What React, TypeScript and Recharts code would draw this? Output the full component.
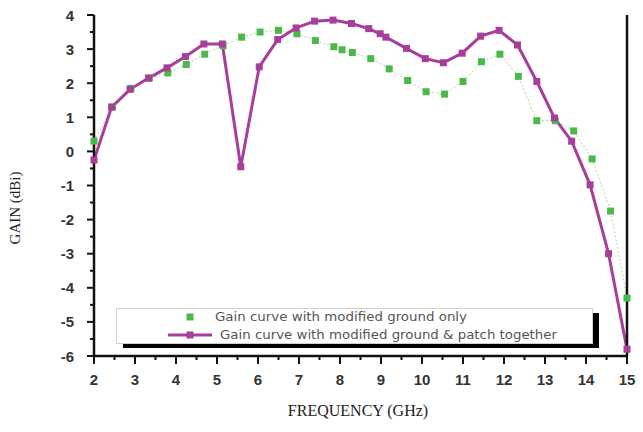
import { Label, Line, LineChart, XAxis, YAxis } from "recharts";

// gain curve, modified ground only (green)
const groundFreq = [
  2.0, 2.45, 2.9, 3.35, 3.8, 4.25, 4.7, 5.15, 5.6, 6.05, 6.5, 6.95, 7.4, 7.85, 8.05, 8.3,
  8.75, 9.2, 9.65, 10.1, 10.55, 11.0, 11.45, 11.9, 12.35, 12.8, 13.25, 13.7, 14.15, 14.6, 15.0
];
const groundGain = [
  0.3, 1.3, 1.85, 2.15, 2.3, 2.55, 2.85, 3.1, 3.35, 3.5, 3.55, 3.45, 3.25, 3.07, 2.98, 2.9,
  2.72, 2.42, 2.08, 1.75, 1.68, 2.05, 2.63, 2.85, 2.2, 0.9, 0.9, 0.6, -0.22, -1.75, -4.3
];

// gain curve, modified ground & patch together (magenta)
const patchFreq = [
  2.0, 2.43, 2.88, 3.33, 3.78, 4.23, 4.68, 5.13, 5.58, 6.03, 6.48, 6.93, 7.38, 7.83, 8.28,
  8.7, 8.98, 9.12, 9.62, 10.08, 10.52, 10.98, 11.43, 11.88, 12.33, 12.8, 13.23, 13.65, 14.1,
  14.55, 15.0
];
const patchGain = [
  -0.25, 1.3, 1.82, 2.15, 2.45, 2.78, 3.15, 3.15, -0.45, 2.48, 3.28, 3.62, 3.82, 3.85, 3.75,
  3.6, 3.45, 3.35, 3.02, 2.72, 2.6, 2.88, 3.38, 3.55, 3.12, 2.05, 0.98, 0.3, -0.98, -3.0, -5.8
];

const freqTicks = [
  2, 2.5, 3, 3.5, 4, 4.5, 5, 5.5, 6, 6.5, 7, 7.5, 8, 8.5, 9, 9.5, 10, 10.5, 11, 11.5, 12,
  12.5, 13, 13.5, 14, 14.5, 15
];
const gainTicks = [
  -6, -5.5, -5, -4.5, -4, -3.5, -3, -2.5, -2, -1.5, -1, -0.5, 0, 0.5, 1, 1.5, 2, 2.5, 3,
  3.5, 4
];

const groundData = groundFreq.map((f, i) => ({ f, gain: groundGain[i] }));
const patchData = patchFreq.map((f, i) => ({ f, gain: patchGain[i] }));

const GREEN = "#4cb84a";
const GREEN_LINE = "#a8d8a0";
const MAGENTA = "#a63e9a";
const AXIS = "#111";
const tickFont = { fontFamily: "Liberation Sans, Arial, sans-serif", fontSize: 15, fontWeight: 700, fill: "#333" };

const BottomTick = ({ x, y, payload }: any) => {
  const major = Number.isInteger(payload.value);
  return (
    <g>
      <line x1={x} x2={x} y1={y} y2={y + (major ? 8 : 4)} stroke={AXIS} strokeWidth={2} />
      {major && (
        <text x={x} y={y + 23} textAnchor="middle" dominantBaseline="central" {...tickFont}>
          {payload.value}
        </text>
      )}
    </g>
  );
};

const LeftTick = ({ x, y, payload }: any) => {
  const major = Number.isInteger(payload.value);
  return (
    <g>
      <line x1={x} x2={x - (major ? 7 : 4)} y1={y} y2={y} stroke={AXIS} strokeWidth={2} />
      {major && (
        <text x={x - 20} y={y} textAnchor="end" dominantBaseline="central" {...tickFont}>
          {payload.value}
        </text>
      )}
    </g>
  );
};

const TopTick = ({ x, y }: any) => (
  <line x1={x} x2={x} y1={y} y2={y + 3} stroke={AXIS} strokeWidth={2} />
);

const RightTick = ({ x, y }: any) => (
  <line x1={x} x2={x - 4} y1={y} y2={y} stroke={AXIS} strokeWidth={2} />
);

const SquareDot = (color: string) => (props: any) => {
  const { cx, cy, index } = props;
  return <rect key={index} x={cx - 3.5} y={cy - 3.5} width={7} height={7} fill={color} />;
};

const LegendBox = () => (
  <svg width={490} height={42} style={{ position: "absolute", left: 116, top: 308 }}>
    <rect x={7} y={5} width={476} height={35} fill="#000" />
    <rect x={0.5} y={0.5} width={476} height={35} fill="#fff" stroke="#d0d0d0" />
    <rect x={70.5} y={5.5} width={7} height={7} fill={GREEN} />
    <text
      x={99} y={9} dominantBaseline="central" fontFamily="DejaVu Sans, sans-serif" fontSize={11.5}
      fill="#555" textLength={252} lengthAdjust="spacingAndGlyphs"
    >
      Gain curve with modified ground only
    </text>
    <line x1={52} x2={96} y1={27} y2={27} stroke={MAGENTA} strokeWidth={3} />
    <rect x={70.5} y={23.5} width={7} height={7} fill={MAGENTA} />
    <text
      x={104} y={27} dominantBaseline="central" fontFamily="DejaVu Sans, sans-serif" fontSize={11.5}
      fill="#555" textLength={337} lengthAdjust="spacingAndGlyphs"
    >
      Gain curve with modified ground &amp; patch together
    </text>
  </svg>
);

const serif = "Liberation Serif, Times New Roman, serif";

export default function App() {
  return (
    <div style={{ position: "absolute", left: 0, top: 0, width: 643, height: 432, background: "#fff" }}>
      <LineChart width={643} height={432} margin={{ top: 15, right: 0, bottom: 0, left: 0 }}>
        <XAxis
          dataKey="f"
          type="number"
          domain={[2, 15]}
          ticks={freqTicks}
          interval={0}
          height={76}
          tickSize={0}
          tickMargin={0}
          tick={<BottomTick />}
          tickLine={false}
          axisLine={{ stroke: AXIS, strokeWidth: 2.5 }}
          allowDuplicatedCategory={false}
        >
          <Label
            content={() => (
              <text x={358} y={410} textAnchor="middle" dominantBaseline="central" fontFamily={serif} fontSize={16} fill="#222">
                FREQUENCY  (GHz)
              </text>
            )}
          />
        </XAxis>
        <XAxis
          xAxisId="top"
          orientation="top"
          type="number"
          domain={[2, 15]}
          ticks={freqTicks}
          interval={0}
          height={0}
          tickSize={0}
          tickMargin={0}
          tick={<TopTick />}
          tickLine={false}
          axisLine={{ stroke: AXIS, strokeWidth: 2.5 }}
        />
        <YAxis
          type="number"
          domain={[-6, 4]}
          ticks={gainTicks}
          interval={0}
          width={94}
          tickSize={0}
          tickMargin={0}
          tick={<LeftTick />}
          tickLine={false}
          axisLine={{ stroke: AXIS, strokeWidth: 2.5 }}
        >
          <Label
            content={() => (
              <text
                x={15} y={208} textAnchor="middle" dominantBaseline="central" fontFamily={serif}
                fontSize={15} fill="#222" transform="rotate(-90 15 208)"
              >
                GAIN  (dBi)
              </text>
            )}
          />
        </YAxis>
        <YAxis
          yAxisId="right"
          orientation="right"
          type="number"
          domain={[-6, 4]}
          ticks={gainTicks}
          interval={0}
          width={16}
          tickSize={0}
          tickMargin={0}
          tick={<RightTick />}
          tickLine={false}
          axisLine={{ stroke: AXIS, strokeWidth: 2.5 }}
        />
        <Line
          data={groundData}
          dataKey="gain"
          name="Gain curve with modified ground only"
          stroke={GREEN_LINE}
          strokeWidth={1}
          strokeDasharray="2 2"
          dot={SquareDot(GREEN)}
          activeDot={false}
          isAnimationActive={false}
        />
        <Line
          data={patchData}
          dataKey="gain"
          name="Gain curve with modified ground & patch together"
          stroke={MAGENTA}
          strokeWidth={3}
          dot={SquareDot(MAGENTA)}
          activeDot={false}
          isAnimationActive={false}
        />
      </LineChart>
      <LegendBox />
    </div>
  );
}
